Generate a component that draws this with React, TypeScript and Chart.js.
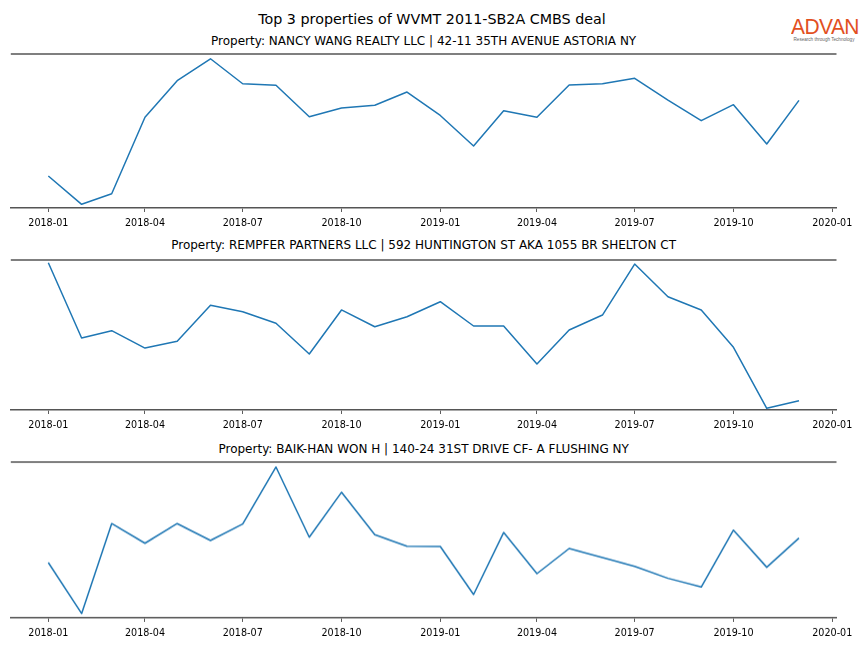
import React, { useEffect, useRef } from 'react';
import { Chart, registerables } from 'chart.js';

Chart.register(...registerables);

const months = [
  '2018-01', '2018-02', '2018-03', '2018-04', '2018-05', '2018-06',
  '2018-07', '2018-08', '2018-09', '2018-10', '2018-11', '2018-12',
  '2019-01', '2019-02', '2019-03', '2019-04', '2019-05', '2019-06',
  '2019-07', '2019-08', '2019-09', '2019-10', '2019-11', '2019-12',
];

const nancyWang = [
  20.8, 2.4, 9.3, 58.9, 82.7, 96.9, 80.7, 79.7, 59.3, 64.9, 66.7, 75.3,
  60.1, 40.3, 63.2, 58.9, 79.9, 80.7, 84.2, 70.1, 56.7, 67.1, 41.6, 69.9,
];

const rempfer = [
  98.2, 48.0, 52.9, 41.3, 45.8, 69.8, 65.5, 57.8, 37.3, 66.7, 55.5, 62.2,
  72.2, 56.0, 56.0, 30.7, 53.3, 63.3, 97.3, 75.5, 66.7, 41.8, 1.1, 6.2,
];

const baikHan = [
  35.5, 2.8, 60.5, 47.9, 60.5, 49.7, 60.2, 96.8, 51.8, 80.6, 53.4, 46.0,
  45.8, 15.0, 54.8, 28.4, 44.5, 38.7, 33.1, 25.4, 19.8, 56.3, 32.5, 51.2,
];

const tickLabels = [
  '2018-01', '2018-04', '2018-07', '2018-10',
  '2019-01', '2019-04', '2019-07', '2019-10', '2020-01',
];

const mainTitle = 'Top 3 properties of WVMT 2011-SB2A CMBS deal';
const panelTitles = [
  'Property: NANCY WANG REALTY LLC | 42-11 35TH AVENUE ASTORIA NY',
  'Property: REMPFER PARTNERS LLC | 592 HUNTINGTON ST AKA 1055 BR SHELTON CT',
  'Property: BAIK-HAN WON H | 140-24 31ST DRIVE CF- A FLUSHING NY',
];

const FONT = "'DejaVu Sans', sans-serif";

const dayOf = (ym: string) => {
  const [y, m] = ym.split('-').map(Number);
  return (Date.UTC(y, m - 1, 1) - Date.UTC(2018, 0, 1)) / 86400000;
};

const firstDay = dayOf(months[0]);
const lastDay = dayOf(months[months.length - 1]);
const span = lastDay - firstDay;
const xMin = firstDay - 0.05 * span;
const xMax = lastDay + 0.05 * span;

const topSpine = {
  id: 'topSpine',
  afterDraw(chart: any) {
    const { ctx, chartArea } = chart;
    ctx.save();
    ctx.strokeStyle = '#555555';
    ctx.lineWidth = 1.6;
    ctx.beginPath();
    ctx.moveTo(chartArea.left, chartArea.top);
    ctx.lineTo(chartArea.right, chartArea.top);
    ctx.stroke();
    ctx.restore();
  },
};

const PAD_TOP = 4;
const AXIS_H = 26;

function Panel({ values, spineTop, plotHeight }: { values: number[]; spineTop: number; plotHeight: number }) {
  const ref = useRef<HTMLCanvasElement | null>(null);
  useEffect(() => {
    if (!ref.current) return;
    const chart = new Chart(ref.current, {
      type: 'line',
      data: {
        datasets: [
          {
            data: months.map((m, i) => ({ x: dayOf(m), y: values[i] })),
            borderColor: '#1f77b4',
            borderWidth: 1.5,
            pointRadius: 0,
            fill: false,
            tension: 0,
            borderJoinStyle: 'round',
          },
        ],
      },
      options: {
        animation: false,
        responsive: false,
        events: [],
        layout: { padding: { left: 10.8, right: 27.5, top: PAD_TOP, bottom: 0 } },
        plugins: {
          legend: { display: false },
          tooltip: { enabled: false },
          title: { display: false },
        },
        scales: {
          x: {
            type: 'linear',
            min: xMin,
            max: xMax,
            afterBuildTicks: (s: any) => {
              s.ticks = tickLabels.map((t) => ({ value: dayOf(t) }));
            },
            afterFit: (s: any) => {
              s.height = AXIS_H;
            },
            ticks: {
              callback: (_v: any, i: number) => tickLabels[i],
              font: { family: FONT, size: 9.6 },
              color: '#000000',
              maxRotation: 0,
              minRotation: 0,
              autoSkip: false,
              padding: 6,
            },
            grid: {
              display: true,
              drawOnChartArea: false,
              drawTicks: true,
              tickLength: 4,
              tickColor: '#333333',
              tickWidth: 0.8,
            },
            border: { display: true, color: '#555555', width: 1.6 },
          },
          y: { display: false, min: 0, max: 100 },
        },
      },
      plugins: [topSpine],
    } as any);
    return () => chart.destroy();
  }, [values]);
  const h = PAD_TOP + plotHeight + AXIS_H;
  return (
    <canvas
      ref={ref}
      width={864}
      height={h}
      style={{ position: 'absolute', left: 0, top: spineTop - PAD_TOP, width: 864, height: h }}
    />
  );
}

const panels = [
  { values: nancyWang, spineTop: 54, plotHeight: 154, titleY: 42 },
  { values: rempfer, spineTop: 259.5, plotHeight: 150.5, titleY: 246 },
  { values: baikHan, spineTop: 462, plotHeight: 155.5, titleY: 450 },
];

export default function App() {
  return (
    <div
      style={{
        position: 'absolute',
        left: 0,
        top: 0,
        width: 864,
        height: 648,
        background: '#ffffff',
        overflow: 'hidden',
        fontFamily: FONT,
      }}
    >
      <div
        style={{
          position: 'absolute',
          left: 0,
          width: 864,
          top: 10,
          height: 18,
          lineHeight: '18px',
          fontSize: 14.3,
          textAlign: 'center',
          color: '#000',
          whiteSpace: 'nowrap',
        }}
      >
        {mainTitle}
      </div>
      {panels.map((p, i) => (
        <React.Fragment key={i}>
          <div
            style={{
              position: 'absolute',
              left: 10.8,
              width: 836.5 - 10.8,
              top: p.titleY - 8,
              height: 15,
              lineHeight: '15px',
              fontSize: 12,
              textAlign: 'center',
              color: '#000',
              whiteSpace: 'nowrap',
            }}
          >
            {panelTitles[i]}
          </div>
          <Panel values={p.values} spineTop={p.spineTop} plotHeight={p.plotHeight} />
        </React.Fragment>
      ))}
      <div
        style={{
          position: 'absolute',
          left: 788,
          top: 15,
          width: 74,
          textAlign: 'center',
          fontFamily: "'Liberation Sans', Arial, sans-serif",
          fontSize: 21,
          lineHeight: '22px',
          color: '#e2501f',
          letterSpacing: -0.6,
          transform: 'scaleY(1.08)',
          transformOrigin: 'center top',
        }}
      >
        ADVAN
      </div>
      <div
        style={{
          position: 'absolute',
          left: 786,
          top: 37,
          width: 76,
          textAlign: 'center',
          fontFamily: "'Liberation Sans', Arial, sans-serif",
          fontSize: 4.6,
          lineHeight: '5px',
          color: '#666666',
          whiteSpace: 'nowrap',
        }}
      >
        Research through Technology
      </div>
    </div>
  );
}
